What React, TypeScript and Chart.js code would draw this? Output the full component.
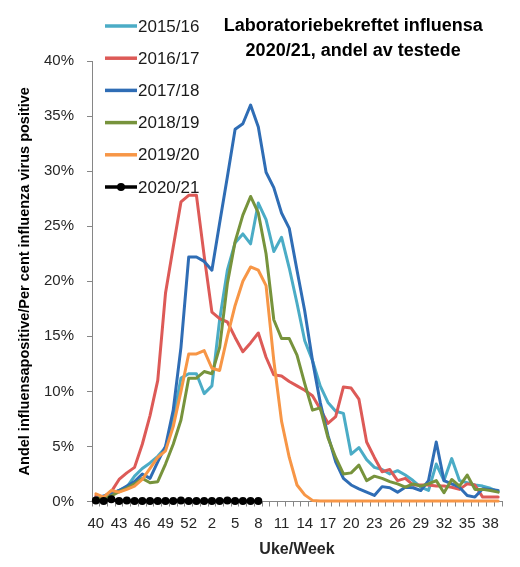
import { useEffect, useRef } from 'react';
import { Chart, registerables } from 'chart.js';

Chart.register(...registerables);

const FONT = '"Liberation Sans", Arial, sans-serif';

// Weeks 40–53 of the autumn, then weeks 1–39 of the following year
const weeks = [
  '40', '41', '42', '43', '44', '45', '46', '47', '48', '49', '50', '51', '52', '53',
  '1', '2', '3', '4', '5', '6', '7', '8', '9', '10', '11', '12', '13', '14', '15', '16',
  '17', '18', '19', '20', '21', '22', '23', '24', '25', '26', '27', '28', '29', '30',
  '31', '32', '33', '34', '35', '36', '37', '38', '39',
];

const seasons = ['2015/16', '2016/17', '2017/18', '2018/19', '2019/20', '2020/21'];
const seasonColors = ['#4BACC6', '#DD5A57', '#2F6DB5', '#77933C', '#F79646', '#000000'];

// Percent of tested samples that were influenza positive, per week
const s1516 = [
  0.4, 0.4, 0.7, 1.0, 1.3, 2.3, 3.0, 3.5, 4.1, 4.9, 7.5, 11.2, 11.6, 11.6,
  9.8, 10.5, 16.5, 21.0, 23.5, 24.3, 23.4, 27.1, 25.6, 22.7, 24.0, 21.2, 18.0, 14.6,
  12.8, 10.5, 9.0, 8.2, 8.0, 4.3, 4.9, 3.8, 3.1, 2.9, 2.5, 2.8, 2.4, 1.9,
  1.3, 1.0, 3.4, 1.9, 3.9, 1.9, 1.7, 1.5, 1.4, 1.2, 0.9,
];
const s1617 = [
  0.5, 0.4, 0.9, 2.0, 2.6, 3.1, 5.2, 7.8, 11.0, 18.9, 23.1, 27.2, 27.8, 27.8,
  22.3, 17.2, 16.6, 16.3, 14.9, 13.6, 14.4, 15.3, 13.1, 11.5, 11.4, 10.9, 10.5, 10.1,
  9.6, 8.4, 7.1, 7.7, 10.4, 10.3, 9.3, 5.4, 4.0, 2.7, 2.9, 1.9, 2.1, 1.5,
  1.5, 1.5, 1.4, 1.4, 1.3, 1.1, 1.6, 1.5, 0.4, 0.4, 0.4,
];
const s1718 = [
  0.3, 0.5, 0.7, 1.0, 1.4, 1.8, 2.5, 2.1, 3.6, 5.0, 8.3, 14.0, 22.2, 22.2,
  21.8, 21.0, 25.3, 29.5, 33.8, 34.3, 36.0, 34.0, 29.9, 28.5, 26.2, 24.8, 21.0, 17.3,
  12.8, 9.0, 6.0, 3.6, 2.1, 1.5, 1.15, 0.85, 0.55, 1.35, 1.25, 0.85, 1.3, 1.25,
  1.0, 1.9, 5.4, 1.9, 1.6, 1.3, 0.55, 0.4, 1.15, 1.1, 1.0,
];
const s1819 = [
  0.3, 0.3, 0.5, 0.9, 1.2, 1.6, 2.1, 1.7, 1.8, 3.4, 5.2, 7.4, 11.2, 11.2,
  11.8, 11.6, 14.0, 19.8, 23.6, 26.0, 27.7, 26.2, 22.5, 16.5, 14.8, 14.8, 13.3, 10.7,
  8.3, 8.5, 5.8, 4.0, 2.5, 2.6, 3.3, 1.9, 2.3, 2.1, 1.8, 1.6, 1.3, 1.6,
  1.4, 1.6, 1.9, 0.8, 2.0, 1.4, 2.4, 1.1, 1.1, 1.0, 0.85,
];
const s1920 = [
  0.7, 0.4, 1.0, 0.85, 1.1, 1.4, 2.0, 3.0, 4.0, 4.6, 6.8, 10.0, 13.4, 13.4,
  13.7, 12.1, 11.9, 15.0, 17.8, 20.0, 21.3, 21.0, 19.6, 12.8, 7.3, 4.0, 1.5, 0.6,
  0.1, 0.05, 0.05, 0.05, 0.05, 0.05, 0.05, 0.05, 0.05, 0.05, 0.05, 0.05, 0.05, 0.05,
  0.05, 0.05, 0.05, 0.05, 0.05, 0.05, 0.05, 0.05, 0.05, 0.05, 0.05,
];
const s2021 = [
  0.1, 0.05, 0.2, 0.05, 0.1, 0.05, 0.05, 0.05, 0.05, 0.05, 0.05, 0.1, 0.05, 0.05,
  0.05, 0.05, 0.05, 0.1, 0.05, 0.05, 0.05, 0.05,
];

const seriesValues = [s1516, s1617, s1718, s1819, s1920, s2021];

const titleLines = ['Laboratoriebekreftet influensa', '2020/21, andel av testede'];

// Legend stacked in the top-left corner of the plot, plus the two-line heading
const overlayPlugin = {
  id: 'seasonOverlay',
  afterDatasetsDraw(chart: any) {
    const { ctx, chartArea } = chart;
    ctx.save();
    chart.data.datasets.forEach((ds: any, i: number) => {
      const y = chartArea.top - 35 + i * 32.2;
      const x0 = chartArea.left + 13;
      const x1 = chartArea.left + 45;
      ctx.strokeStyle = ds.borderColor;
      ctx.lineWidth = 3.5;
      ctx.lineCap = 'butt';
      ctx.beginPath();
      ctx.moveTo(x0, y);
      ctx.lineTo(x1, y);
      ctx.stroke();
      if (ds.pointRadius > 0) {
        ctx.fillStyle = ds.borderColor;
        ctx.beginPath();
        ctx.arc((x0 + x1) / 2, y, ds.pointRadius, 0, Math.PI * 2);
        ctx.fill();
      }
      ctx.fillStyle = '#1a1a1a';
      ctx.font = `17px ${FONT}`;
      ctx.textAlign = 'left';
      ctx.textBaseline = 'middle';
      ctx.fillText(ds.label, x1 + 1, y + 1);
    });

    ctx.fillStyle = '#000000';
    ctx.font = `bold 18px ${FONT}`;
    ctx.textAlign = 'center';
    ctx.textBaseline = 'middle';
    const cx = chartArea.left + (chartArea.right - chartArea.left) * 0.637;
    titleLines.forEach((line, i) => {
      ctx.fillText(line, cx, chartArea.top - 34.5 + i * 24.5);
    });
    ctx.restore();
  },
};

export default function App() {
  const canvasRef = useRef<HTMLCanvasElement | null>(null);

  useEffect(() => {
    if (!canvasRef.current) return;
    const chart = new Chart(canvasRef.current, {
      type: 'line',
      data: {
        labels: weeks,
        datasets: seasons.map((name, i) => ({
          label: name,
          data: seriesValues[i],
          borderColor: seasonColors[i],
          backgroundColor: seasonColors[i],
          borderWidth: 3,
          pointRadius: i === 5 ? 4 : 0,
          pointHoverRadius: i === 5 ? 4 : 0,
          pointBackgroundColor: seasonColors[i],
          pointBorderWidth: 0,
          tension: 0,
          fill: false,
          borderJoinStyle: 'round' as const,
          borderCapStyle: 'round' as const,
          clip: 8,
          order: 10 - i,
        })),
      },
      options: {
        animation: false,
        responsive: false,
        layout: { padding: { left: 0, right: 18, top: 61, bottom: 0 } },
        plugins: {
          legend: { display: false },
          tooltip: { enabled: false },
          title: { display: false },
        },
        scales: {
          x: {
            type: 'category',
            offset: true,
            grid: {
              display: true,
              drawOnChartArea: false,
              drawTicks: true,
              tickLength: 5,
              offset: true,
              color: '#868686',
              lineWidth: 1,
            },
            border: { display: true, color: '#868686', width: 1 },
            ticks: {
              autoSkip: false,
              maxRotation: 0,
              minRotation: 0,
              padding: 8,
              color: '#262626',
              font: { family: FONT, size: 15 },
              callback: (_v: any, i: number) => (i % 3 === 0 ? weeks[i] : ''),
            },
            title: {
              display: true,
              text: 'Uke/Week',
              color: '#262626',
              font: { family: FONT, size: 16, weight: 'bold' },
              padding: { top: 4, bottom: 8 },
            },
            afterFit: (scale: any) => {
              scale.height = 65.5;
            },
          },
          y: {
            min: 0,
            max: 40,
            grid: {
              display: true,
              drawOnChartArea: false,
              drawTicks: true,
              tickLength: 5,
              color: '#868686',
              lineWidth: 1,
            },
            border: { display: true, color: '#868686', width: 1 },
            ticks: {
              stepSize: 5,
              padding: 13,
              color: '#262626',
              font: { family: FONT, size: 15 },
              callback: (v: any) => `${v}%`,
            },
            title: {
              display: true,
              text: 'Andel influensapositive/Per cent influenza virus positive',
              color: '#000000',
              font: { family: FONT, size: 14.5, weight: 'bold' },
              padding: { top: 16, bottom: 0 },
            },
            afterFit: (scale: any) => {
              scale.width = 92;
            },
          },
        },
      },
      plugins: [overlayPlugin],
    });
    return () => chart.destroy();
  }, []);

  return (
    <div style={{ position: 'absolute', left: 0, top: 0, width: 520, height: 567, background: '#ffffff' }}>
      <canvas ref={canvasRef} width={520} height={567} style={{ display: 'block' }} />
    </div>
  );
}
